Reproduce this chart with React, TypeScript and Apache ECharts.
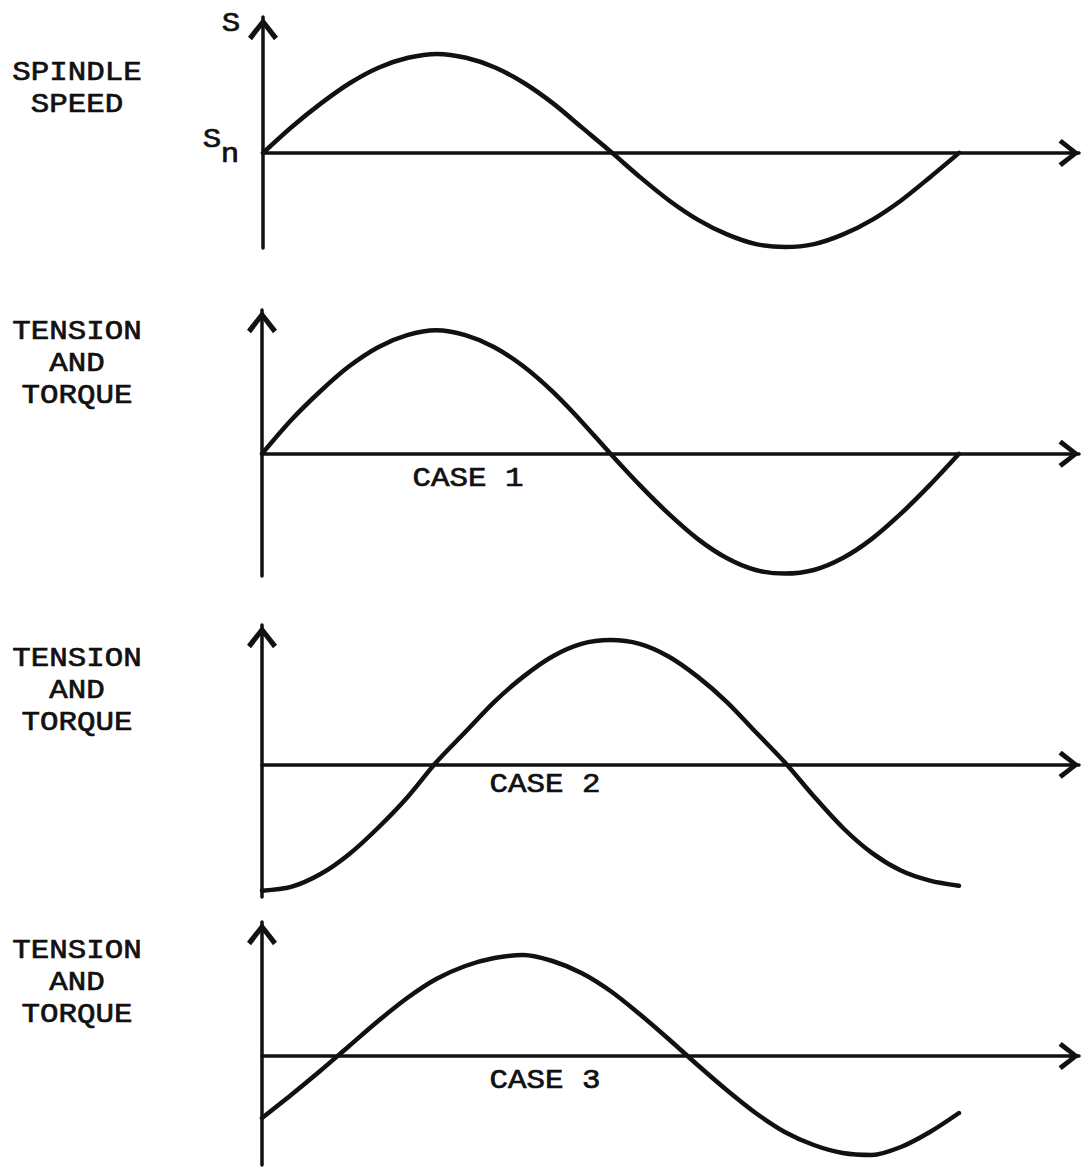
import React, { useEffect, useRef } from "react";
import * as echarts from "echarts";

// Phase angle (degrees) along the horizontal axis
const angles = [0, 15, 30, 45, 60, 75, 90, 105, 120, 135, 150, 165, 180, 195, 210, 225, 240, 255, 270, 285, 300, 315, 330, 345, 360];

// Curve values (relative units, amplitude ~1)
const spindleSpeed = [0, 0.27, 0.51, 0.72, 0.88, 0.98, 1.02, 0.98, 0.88, 0.72, 0.51, 0.26, 0.01, -0.25, -0.49, -0.69, -0.84, -0.94, -0.97, -0.94, -0.84, -0.69, -0.49, -0.25, 0];
const case1 = [0, 0.28, 0.52, 0.73, 0.89, 0.99, 1.03, 0.99, 0.89, 0.73, 0.52, 0.27, 0, -0.26, -0.5, -0.71, -0.87, -0.97, -1.0, -0.97, -0.87, -0.71, -0.5, -0.26, 0];
const case2 = [-1.0, -0.97, -0.87, -0.71, -0.5, -0.26, 0.02, 0.26, 0.5, 0.7, 0.86, 0.96, 0.99, 0.96, 0.86, 0.7, 0.5, 0.26, 0.02, -0.25, -0.5, -0.7, -0.84, -0.92, -0.96];
const case3 = [-0.62, -0.39, -0.15, 0.1, 0.35, 0.58, 0.77, 0.9, 0.98, 1.01, 0.95, 0.83, 0.65, 0.42, 0.17, -0.09, -0.34, -0.57, -0.76, -0.89, -0.97, -0.99, -0.91, -0.76, -0.57];

const panelSeries = [spindleSpeed, case1, case2, case3];

// Left-hand panel labels
const panelLabels = ["SPINDLE\nSPEED", "TENSION\nAND\nTORQUE", "TENSION\nAND\nTORQUE", "TENSION\nAND\nTORQUE"];
const caseLabels = ["", "CASE 1", "CASE 2", "CASE 3"];

// Axis ranges per panel
const yMins = [-0.98, -1.02, -1.05, -1.09];
const yMaxs = [1.4, 1.2, 1.11, 1.34];
const xMax = 422;

// Layout (pixels)
const grids = [
  { left: 263, top: 17, width: 816, height: 231 },
  { left: 262, top: 310, width: 817, height: 266 },
  { left: 262, top: 625, width: 817, height: 272 },
  { left: 262, top: 922, width: 817, height: 243 },
];
const labelY = [88, 363, 690, 982];
const caseX = [0, 468, 545, 545];
const caseY = [0, 478, 784, 1080];

const INK = "#111111";
const FONT = "'Liberation Mono', 'DejaVu Sans Mono', monospace";
const CHEVRON = "path://M15,0 L30,19 L26,22.5 L15,8 L4,22.5 L0,19 Z";

export default function App() {
  const ref = useRef<HTMLDivElement>(null);

  useEffect(() => {
    if (!ref.current) return;
    const chart = echarts.init(ref.current, undefined, { renderer: "svg" });

    const xAxes = grids.map((_, i) => ({
      type: "value",
      gridIndex: i,
      min: 0,
      max: xMax,
      axisLine: {
        show: true,
        onZero: true,
        lineStyle: { color: INK, width: 3.5 },
        symbol: ["none", CHEVRON],
        symbolSize: [28, 21],
        symbolOffset: [0, -10],
      },
      axisTick: { show: false },
      axisLabel: { show: false },
      splitLine: { show: false },
    }));

    const yAxes = grids.map((_, i) => ({
      type: "value",
      gridIndex: i,
      min: yMins[i],
      max: yMaxs[i],
      axisLine: {
        show: true,
        onZero: true,
        lineStyle: { color: INK, width: 3.5 },
        symbol: ["none", CHEVRON],
        symbolSize: [30, 24],
        symbolOffset: [0, -12],
      },
      axisTick: { show: false },
      axisLabel: { show: false },
      splitLine: { show: false },
    }));

    const series = panelSeries.map((vals, i) => ({
      type: "line",
      xAxisIndex: i,
      yAxisIndex: i,
      data: angles.map((a, k) => [a, vals[k]]),
      smooth: 0.3,
      symbol: "none",
      lineStyle: { color: INK, width: 4.5, cap: "round", join: "round" },
      z: 3,
    }));

    const textStyleBase = {
      fill: INK,
      stroke: INK,
      lineWidth: 0.7,
      fontFamily: FONT,
      fontSize: 28,
    };

    const graphics: any[] = [];
    panelLabels.forEach((t, i) => {
      graphics.push({
        type: "text",
        x: 77,
        y: labelY[i],
        scaleX: 1.1,
        style: {
          ...textStyleBase,
          text: t,
          textAlign: "center",
          verticalAlign: "middle",
          lineHeight: 32,
        },
      });
    });
    caseLabels.forEach((t, i) => {
      if (!t) return;
      graphics.push({
        type: "text",
        x: caseX[i],
        y: caseY[i],
        scaleX: 1.1,
        style: { ...textStyleBase, text: t, textAlign: "center", verticalAlign: "middle" },
      });
    });
    graphics.push({
      type: "text",
      x: 231,
      y: 23,
      scaleX: 1.1,
      style: { ...textStyleBase, text: "S", textAlign: "center", verticalAlign: "middle" },
    });
    graphics.push({
      type: "text",
      x: 212,
      y: 139,
      scaleX: 1.1,
      style: { ...textStyleBase, text: "S", textAlign: "center", verticalAlign: "middle" },
    });
    graphics.push({
      type: "text",
      x: 230,
      y: 154,
      scaleX: 1.1,
      style: { ...textStyleBase, text: "n", textAlign: "center", verticalAlign: "middle" },
    });

    chart.setOption({
      animation: false,
      backgroundColor: "#ffffff",
      grid: grids.map((g) => ({ ...g, containLabel: false })),
      xAxis: xAxes,
      yAxis: yAxes,
      series,
      graphic: graphics,
    });

    return () => chart.dispose();
  }, []);

  return (
    <div
      ref={ref}
      style={{ position: "fixed", left: 0, top: 0, width: 1081, height: 1167, background: "#fff" }}
    />
  );
}
